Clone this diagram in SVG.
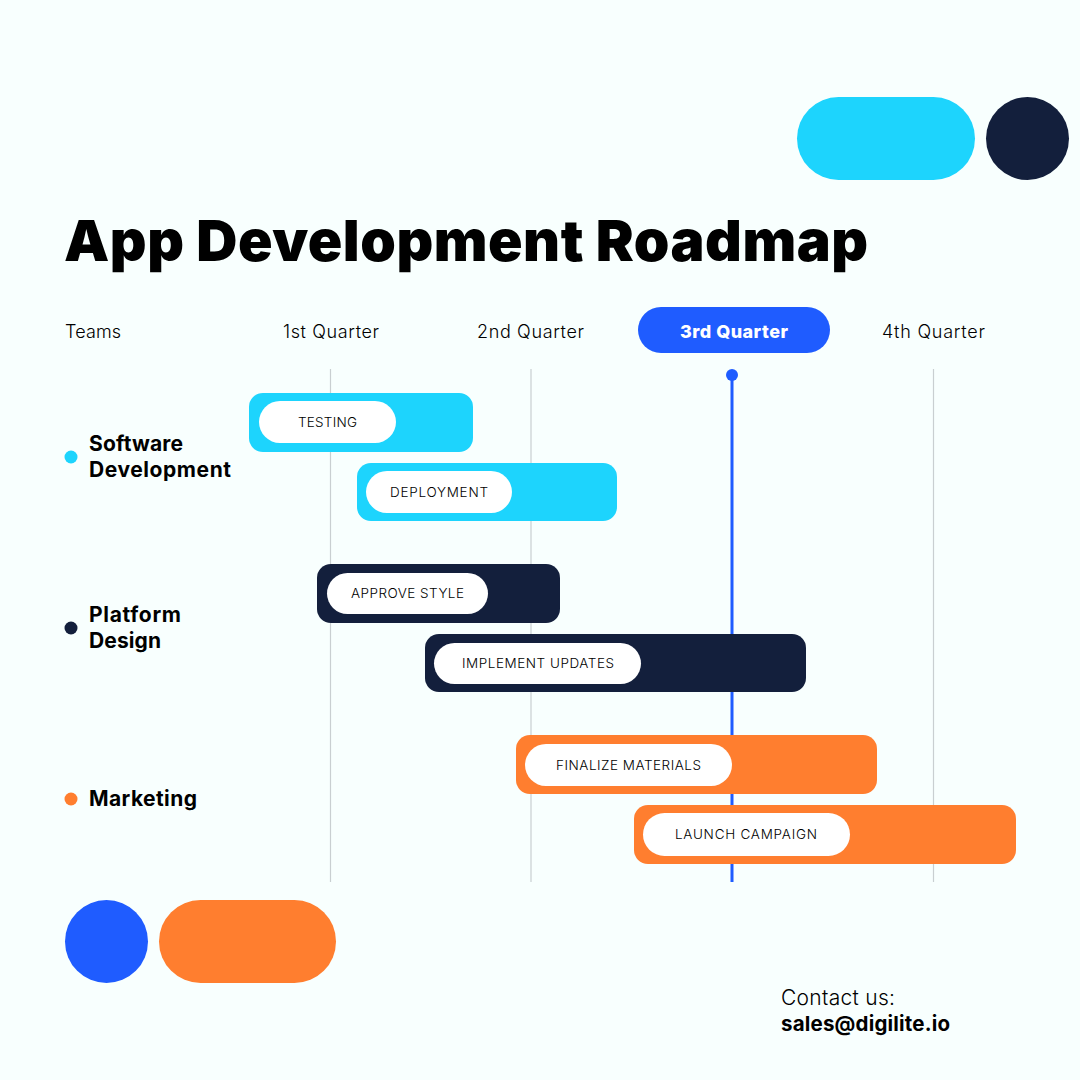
<svg xmlns="http://www.w3.org/2000/svg" width="1080" height="1080" viewBox="0 0 1080 1080">
<style>
text{font-family:"Inter","Liberation Sans",sans-serif;fill:#000}
.t{font-size:18px;font-weight:300;fill:#000}
.b{font-size:13.500px;font-weight:300;fill:#000}
.n{font-size:21px;font-weight:700}
.g{stroke:#c9cfd1;stroke-width:1.200}
.p{fill:#fff}
</style>
<rect width="1080" height="1080" fill="#f8fffe"/>
<g id="deco">
<rect x="797" y="97" width="178" height="83" rx="41.500" fill="#1dd4fd"/>
<circle cx="1027.500" cy="138.500" r="41.500" fill="#131f3c"/>
<circle cx="106.500" cy="941.500" r="41.500" fill="#1f5cff"/>
<rect x="159" y="900" width="177" height="83" rx="41.500" fill="#ff7e2f"/>
</g>
<text x="64" y="261" textLength="804" lengthAdjust="spacing" style="font-size:57px;font-weight:900">App Development Roadmap</text>
<g id="connectors">
<line class="g" x1="330.500" y1="369" x2="330.500" y2="882"/>
<line class="g" x1="531" y1="369" x2="531" y2="882"/>
<line class="g" x1="933.500" y1="369" x2="933.500" y2="882"/>
<line x1="732" y1="375" x2="732" y2="882" stroke="#1f5cff" stroke-width="3"/>
<circle cx="732" cy="375" r="6" fill="#1f5cff"/>
</g>
<g id="header">
<text class="t" x="65" y="338" textLength="56">Teams</text>
<text class="t" x="283" y="338" textLength="96">1st Quarter</text>
<text class="t" x="477" y="338" textLength="107">2nd Quarter</text>
<rect x="638" y="307" width="192" height="46" rx="23" fill="#1f5cff"/>
<text class="t" x="680" y="338" textLength="108" style="fill:#fff;font-weight:800">3rd Quarter</text>
<text class="t" x="882" y="338" textLength="103">4th Quarter</text>
</g>
<g id="team-software"><circle cx="71" cy="457" r="6.500" fill="#1dd4fd"/><text class="n" x="89" y="451" textLength="94">Software</text><text class="n" x="89" y="477" textLength="142">Development</text></g>
<g id="team-platform"><circle cx="71" cy="628" r="6.500" fill="#131f3c"/><text class="n" x="89" y="622" textLength="92">Platform</text><text class="n" x="89" y="648" textLength="72">Design</text></g>
<g id="team-marketing"><circle cx="71" cy="799" r="6.500" fill="#ff7e2f"/><text class="n" x="89" y="806" textLength="108">Marketing</text></g>
<g id="bar-testing"><rect x="249" y="393" width="224" height="59" rx="14" fill="#1dd4fd"/><rect class="p" x="259" y="401" width="137" height="42" rx="21"/><text class="b" x="298" y="427" textLength="59">TESTING</text></g>
<g id="bar-deployment"><rect x="357" y="463" width="260" height="58" rx="14" fill="#1dd4fd"/><rect class="p" x="366" y="471" width="146" height="42" rx="21"/><text class="b" x="390" y="497" textLength="98">DEPLOYMENT</text></g>
<g id="bar-approve"><rect x="317" y="564" width="243" height="59" rx="14" fill="#131f3c"/><rect class="p" x="327" y="573" width="161" height="41" rx="20.500"/><text class="b" x="351" y="598" textLength="113">APPROVE STYLE</text></g>
<g id="bar-implement"><rect x="425" y="634" width="381" height="58" rx="14" fill="#131f3c"/><rect class="p" x="434" y="643" width="207" height="41" rx="20.500"/><text class="b" x="462" y="668" textLength="152">IMPLEMENT UPDATES</text></g>
<g id="bar-finalize"><rect x="516" y="735" width="361" height="59" rx="14" fill="#ff7e2f"/><rect class="p" x="525" y="744" width="207" height="42" rx="21"/><text class="b" x="556" y="770" textLength="145">FINALIZE MATERIALS</text></g>
<g id="bar-launch"><rect x="634" y="805" width="382" height="59" rx="14" fill="#ff7e2f"/><rect class="p" x="643" y="813" width="207" height="43" rx="21.500"/><text class="b" x="675" y="839" textLength="142">LAUNCH CAMPAIGN</text></g>
<g id="contact">
<text x="781" y="1005" textLength="114" style="font-size:21px;font-weight:300">Contact us:</text>
<text x="781" y="1031" textLength="169" style="font-size:20.500px;font-weight:700">sales@digilite.io</text>
</g>
</svg>
